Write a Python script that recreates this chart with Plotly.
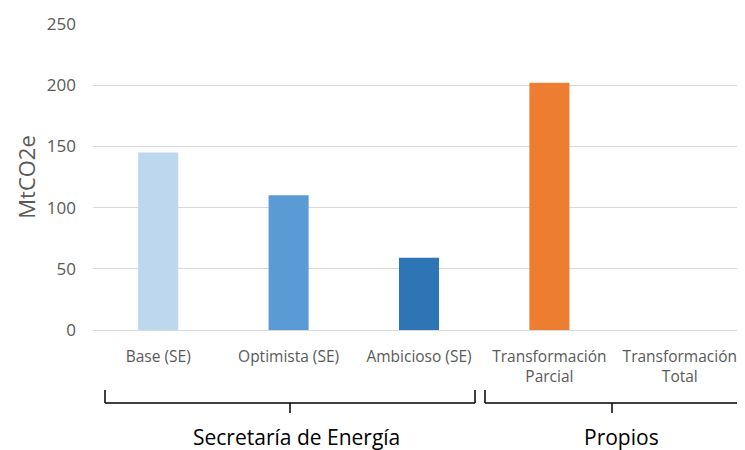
import plotly.graph_objects as go

categories = ["Base (SE)", "Optimista (SE)", "Ambicioso (SE)", "Transformación<br>Parcial", "Transformación<br>Total"]
values = [145, 110, 59, 202, 0]
colors = ["#BDD7EE", "#5B9BD5", "#2E75B6", "#ED7D31", "#A5A5A5"]
y_ticks = [0, 50, 100, 150, 200, 250]
group_labels = ["Secretaría de Energía", "Propios"]

# the page has an 8px body margin; the figure is sized to fill the rest of the 745x450 window
OFF = 8
W, H = 745 - OFF, 450 - OFF
L, R, T, B = 85, 0, 16, 120
pw, ph = W - L - R, H - T - B


def px(x):  # page pixel -> paper x
    return (x - OFF - L) / pw


def py(y):  # page pixel -> paper y
    return (H - B - (y - OFF)) / ph


fig = go.Figure(go.Bar(x=categories, y=values, marker=dict(color=colors, line=dict(width=0)),
                       width=0.307, hoverinfo="x+y"))

font_family = "Open Sans, Liberation Sans, sans-serif"
fig.update_layout(
    width=W, height=H,
    margin=dict(l=L, r=R, t=T, b=B),
    plot_bgcolor="white", paper_bgcolor="white",
    showlegend=False,
    font=dict(family=font_family, color="#595959", size=15.5),
    xaxis=dict(showgrid=False, showline=False, ticks="", ticklabelstandoff=15,
               tickfont=dict(size=15.5, color="#595959")),
    yaxis=dict(range=[0, 250], tickvals=y_ticks, showgrid=True, gridcolor="#D9D9D9", gridwidth=1,
               zeroline=True, zerolinecolor="#D9D9D9", zerolinewidth=1, showline=False,
               ticks="", ticklabelstandoff=16, tickfont=dict(size=17, color="#595959"),
               title=dict(text="MtCO2e", font=dict(size=22, color="#595959"), standoff=5)),
)

brackets = [(105, 290, 475), (485, 612, 745)]
y_top, y_h, y_bot = 390, 403, 413
shapes = []
for x1, xc, x2 in brackets:
    for (xa, ya, xb, yb) in [(x1, y_top, x1, y_h), (x1, y_h, x2, y_h), (x2, y_h, x2, y_top), (xc, y_h, xc, y_bot)]:
        shapes.append(dict(type="line", xref="paper", yref="paper",
                           x0=px(xa), y0=py(ya), x1=px(xb), y1=py(yb),
                           line=dict(color="#000000", width=1.5)))
fig.update_layout(shapes=shapes)

label_x = [296, 621]
for lab, lx in zip(group_labels, label_x):
    fig.add_annotation(text=lab, xref="paper", yref="paper", x=px(lx), y=py(437),
                       showarrow=False, xanchor="center", yanchor="middle",
                       font=dict(size=21, color="#000000", family=font_family))

fig.write_html("out.html")
